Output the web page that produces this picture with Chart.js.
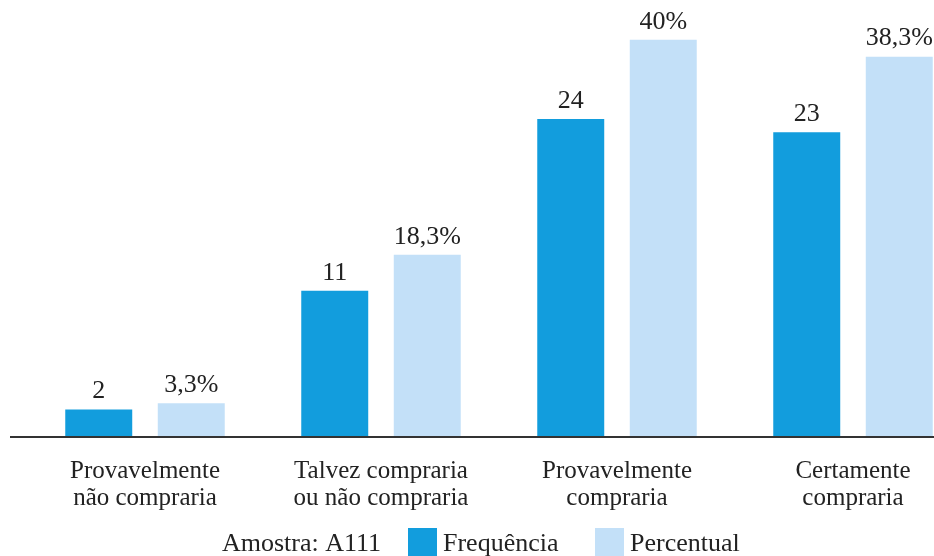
<!DOCTYPE html>
<html>
<head>
<meta charset="utf-8">
<script src="https://cdn.jsdelivr.net/npm/chart.js@4.4.1/dist/chart.umd.min.js"></script>
<style>
  html, body { margin: 0; padding: 0; background: #fff; overflow: hidden; }
  #wrap { width: 975px; height: 556px; }
</style>
</head>
<body>
<div id="wrap"><canvas id="chart"></canvas></div>
<script>
// data
var categories = [
    ['Provavelmente', 'não compraria'],
    ['Talvez compraria', 'ou não compraria'],
    ['Provavelmente', 'compraria'],
    ['Certamente', 'compraria']
];
var frequencia = [2, 11, 24, 23];
var percentual = [3.3, 18.3, 40, 38.3];
var sampleLabel = 'Amostra: A111';

var DARK = '#129ddd';
var LIGHT = '#c3e0f8';
var FONT = "'Liberation Serif', 'DejaVu Serif', serif";

function fmtPct(v) {
    return String(v).replace('.', ',') + '%';
}

// value labels on top of each bar
var barLabels = {
    id: 'barLabels',
    afterDatasetsDraw: function(chart) {
        var ctx = chart.ctx;
        ctx.save();
        ctx.font = '26px ' + FONT;
        ctx.fillStyle = '#222';
        ctx.textAlign = 'center';
        ctx.textBaseline = 'bottom';
        chart.data.datasets.forEach(function(ds, di) {
            chart.getDatasetMeta(di).data.forEach(function(bar, i) {
                var v = ds.data[i];
                var txt = di === 0 ? String(v) : fmtPct(v);
                ctx.fillText(txt, bar.x, bar.y - 5);
            });
        });
        ctx.restore();
    }
};

// baseline across the whole width
var baseLine = {
    id: 'baseLine',
    afterDatasetsDraw: function(chart) {
        var ctx = chart.ctx;
        var y = chart.scales.y.getPixelForValue(0);
        ctx.save();
        ctx.strokeStyle = '#333';
        ctx.lineWidth = 2;
        ctx.beginPath();
        ctx.moveTo(10, y + 1);
        ctx.lineTo(chart.width, y + 1);
        ctx.stroke();
        ctx.restore();
    }
};

// legend line at the bottom: sample text + two swatches
var bottomLegend = {
    id: 'bottomLegend',
    afterDraw: function(chart) {
        var ctx = chart.ctx;
        var y = 551;
        ctx.save();
        ctx.font = '26px ' + FONT;
        ctx.fillStyle = '#222';
        ctx.textBaseline = 'alphabetic';
        ctx.textAlign = 'left';
        ctx.fillText(sampleLabel, 222, y);
        var x = 408;
        chart.data.datasets.forEach(function(ds) {
            ctx.fillStyle = ds.backgroundColor;
            ctx.fillRect(x, 528, 29, 28);
            ctx.fillStyle = '#222';
            ctx.fillText(ds.label, x + 35, y);
            x += 187;
        });
        ctx.restore();
    }
};

new Chart(document.getElementById('chart'), {
    type: 'bar',
    data: {
        labels: categories,
        datasets: [
            { label: 'Frequência', data: frequencia, backgroundColor: DARK, yAxisID: 'y' },
            { label: 'Percentual', data: percentual, backgroundColor: LIGHT, yAxisID: 'y1' }
        ]
    },
    options: {
        responsive: true,
        maintainAspectRatio: false,
        animation: false,
        events: [],
        categoryPercentage: 0.784,
        barPercentage: 0.724,
        layout: { padding: { left: 27, right: 4, top: 20, bottom: 30 } },
        plugins: {
            legend: { display: false },
            tooltip: { enabled: false }
        },
        scales: {
            x: {
                grid: { display: false },
                border: { display: false },
                ticks: {
                    color: '#222',
                    padding: 14,
                    maxRotation: 0,
                    autoSkip: false,
                    font: { family: FONT, size: 25, lineHeight: 1.08 }
                }
            },
            y: {
                display: false,
                min: 0,
                max: 31.5
            },
            y1: {
                display: false,
                min: 0,
                max: 42
            }
        }
    },
    plugins: [barLabels, baseLine, bottomLegend]
});
</script>
</body>
</html>
